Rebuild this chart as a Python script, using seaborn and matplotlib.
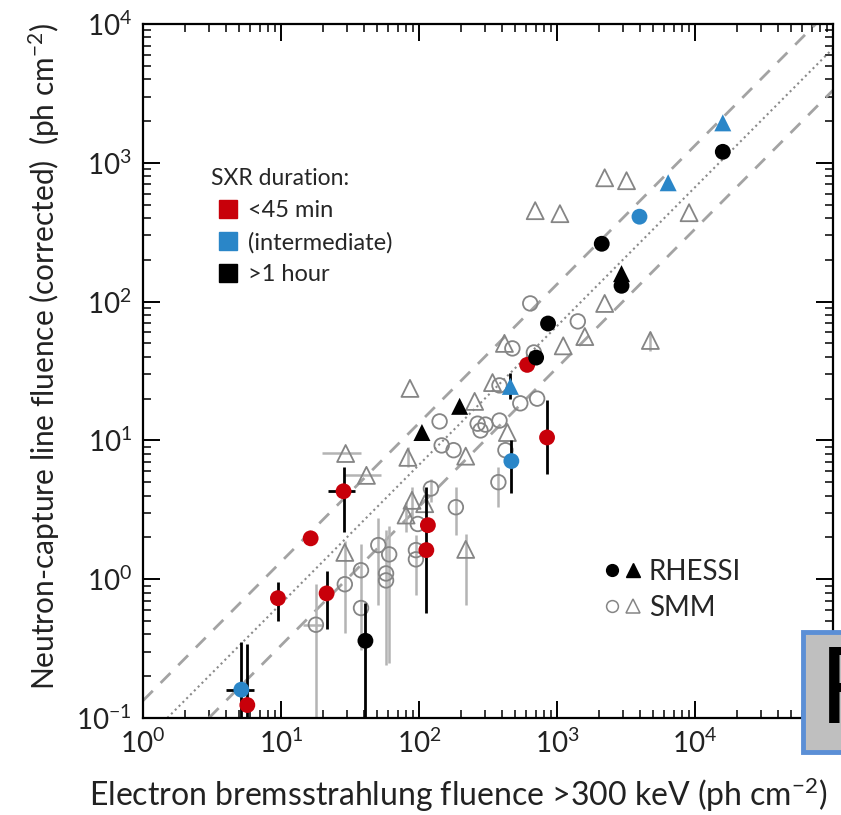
import numpy as np
import pandas as pd
import matplotlib
matplotlib.use("Agg")
import matplotlib.pyplot as plt
import seaborn as sns
from matplotlib.lines import Line2D
from matplotlib.legend_handler import HandlerTuple
from matplotlib.patches import Rectangle

NAN = np.nan

# ---------------- SMM open circles ----------------
smm_c_x   = [17.9, 29, 38, 38, 50.7, 60.8, 57.7, 57.7, 95, 95, 98, 122, 185, 141, 146, 178, 266, 279, 303, 383, 376, 423, 542, 718, 383, 475, 680, 640, 1415]
smm_c_y   = [0.47, 0.92, 1.16, 0.62, 1.76, 1.51, 1.10, 0.98, 1.62, 1.39, 2.5, 4.5, 3.3, 13.7, 9.2, 8.5, 13.2, 11.8, 13.0, 13.9, 5.0, 8.5, 18.5, 20, 24.9, 46, 43, 97, 72]
smm_c_ylo = [0.05, NAN, 0.31, NAN, 0.65, 0.25, 0.24, NAN, 0.77, NAN, NAN, 3.6, 2.07, NAN, NAN, NAN, NAN, NAN, NAN, NAN, 3.3, NAN, NAN, NAN, NAN, NAN, NAN, NAN, NAN]
smm_c_yhi = [0.93, NAN, 1.8, NAN, 2.75, 2.4, 2.25, NAN, 2.07, NAN, NAN, 5.3, 4.6, NAN, NAN, NAN, NAN, NAN, NAN, NAN, 6.4, NAN, NAN, NAN, NAN, NAN, NAN, NAN, NAN]
smm_c_xlo = [14.4] + [NAN] * 28
smm_c_xhi = [19.7] + [NAN] * 28

# ---------------- SMM open triangles ----------------
smm_t_x   = [29.4, 41.6, 29, 86, 253, 218, 83, 89, 80.6, 110, 218, 437, 341, 416, 1110, 1590, 4750, 2215, 695, 1050, 2215, 3190, 9060]
smm_t_y   = [8.05, 5.6, 1.56, 23.7, 19.1, 7.7, 7.55, 3.7, 2.9, 3.5, 1.64, 11.4, 26.1, 50, 48, 56, 52.5, 97, 452, 430, 780, 743, 437]
smm_t_ylo = [NAN, NAN, 0.41, NAN, NAN, NAN, 6.4, 2.8, 2.2, NAN, 0.65, NAN, NAN, NAN, NAN, NAN, 44, NAN, NAN, NAN, NAN, NAN, NAN]
smm_t_yhi = [NAN, NAN, 1.9, NAN, NAN, NAN, 9.0, 4.6, 3.6, NAN, 2.1, NAN, NAN, NAN, NAN, NAN, 60, NAN, NAN, NAN, NAN, NAN, NAN]
smm_t_xlo = [19.7, 29] + [NAN] * 21
smm_t_xhi = [38, 53] + [NAN] * 21

# ---------------- RHESSI filled circles ----------------
rh_c_x   = [5.7, 9.5, 16.4, 28.4, 21.4, 116, 113, 608, 847, 5.16, 467, 3960, 40.9, 706, 861, 2110, 2935, 15900]
rh_c_y   = [0.124, 0.73, 1.97, 4.3, 0.79, 2.45, 1.62, 35, 10.5, 0.16, 7.1, 409, 0.36, 39.5, 69.5, 261, 130, 1200]
rh_c_dur = ["<45 min"] * 9 + ["(intermediate)"] * 3 + [">1 hour"] * 6
rh_c_ylo = [0.05, 0.5, NAN, 2.2, 0.44, NAN, 0.57, NAN, 5.7, 0.05, 4.2, NAN, 0.05, NAN, NAN, NAN, NAN, NAN]
rh_c_yhi = [0.34, 0.95, NAN, 6.4, 1.14, NAN, 4.6, NAN, 19.4, 0.35, 10, NAN, 0.67, NAN, NAN, NAN, NAN, NAN]
rh_c_xlo = [NAN, NAN, NAN, 22, NAN, NAN, 103, NAN, NAN, 4.0, NAN, NAN, NAN, NAN, NAN, NAN, NAN, NAN]
rh_c_xhi = [NAN, NAN, NAN, 34.6, NAN, NAN, 124, NAN, NAN, 6.4, NAN, NAN, NAN, NAN, NAN, NAN, NAN, NAN]

# ---------------- RHESSI filled triangles ----------------
rh_t_x   = [459, 6390, 15900, 105, 197, 2935]
rh_t_y   = [24.5, 718, 1940, 11.4, 17.6, 159]
rh_t_dur = ["(intermediate)"] * 3 + [">1 hour"] * 3
rh_t_ylo = [20, NAN, NAN, NAN, NAN, NAN]
rh_t_yhi = [30.8, NAN, NAN, NAN, NAN, NAN]

# reference lines  y = k * x
ratio_mid = 1 / 15.0
ratio_band = 2.0

# ticks
x_ticks = [1, 10, 100, 1e3, 1e4, 1e5]
x_tick_labels = [r"$10^{0}$", r"$10^{1}$", r"$10^{2}$", r"$10^{3}$", r"$10^{4}$", ""]
y_ticks = [0.1, 1, 10, 100, 1e3, 1e4]
y_tick_labels = [r"$10^{-1}$", r"$10^{0}$", r"$10^{1}$", r"$10^{2}$", r"$10^{3}$", r"$10^{4}$"]

dur_labels = ["<45 min", "(intermediate)", ">1 hour"]
dur_colors = {"<45 min": "#c8000a", "(intermediate)": "#2a86c8", ">1 hour": "#000000"}

# ------------------------------------------------------------
sns.set_theme(style="ticks")
plt.rcParams['font.family'] = ['Lato', 'DejaVu Sans']
plt.rcParams['mathtext.fontset'] = 'custom'
plt.rcParams['mathtext.rm'] = 'Lato'
plt.rcParams['mathtext.it'] = 'Lato:italic'
plt.rcParams['mathtext.bf'] = 'Lato:bold'
plt.rcParams['axes.unicode_minus'] = False

fig = plt.figure(figsize=(8.41, 8.15), dpi=100)
ax = fig.add_axes([143 / 841, 97 / 815, 690 / 841, 694 / 815])
ax.set_xscale("log")
ax.set_yscale("log")
ax.set_xlim(1, 1e5)
ax.set_ylim(0.1, 1e4)

# reference lines
ax.axline((1, ratio_mid), (10, 10 * ratio_mid), color="#8a8a8a", lw=1.5, ls=(0, (1, 1.6)), zorder=1)
for k in (ratio_mid * ratio_band, ratio_mid / ratio_band):
    ax.axline((1, k), (10, 10 * k), color="#a3a3a3", lw=2.0, ls=(0, (5, 4)), zorder=1)


def draw_err(x, y, ylo, yhi, xlo, xhi, color, lw, z):
    x = np.asarray(x, float); y = np.asarray(y, float)
    ylo = np.asarray(ylo, float); yhi = np.asarray(yhi, float)
    m = ~np.isnan(ylo)
    if m.any():
        ax.errorbar(x[m], y[m], yerr=[y[m] - ylo[m], yhi[m] - y[m]], fmt="none",
                    ecolor=color, elinewidth=lw, capsize=0, zorder=z)
    if xlo is not None:
        xlo = np.asarray(xlo, float); xhi = np.asarray(xhi, float)
        m = ~np.isnan(xlo)
        if m.any():
            ax.errorbar(x[m], y[m], xerr=[x[m] - xlo[m], xhi[m] - x[m]], fmt="none",
                        ecolor=color, elinewidth=lw, capsize=0, zorder=z)


draw_err(smm_c_x, smm_c_y, smm_c_ylo, smm_c_yhi, smm_c_xlo, smm_c_xhi, "#b4b4b4", 1.8, 2)
draw_err(smm_t_x, smm_t_y, smm_t_ylo, smm_t_yhi, smm_t_xlo, smm_t_xhi, "#b4b4b4", 1.8, 2)
draw_err(rh_c_x, rh_c_y, rh_c_ylo, rh_c_yhi, rh_c_xlo, rh_c_xhi, "#000000", 2.0, 4)
draw_err(rh_t_x, rh_t_y, rh_t_ylo, rh_t_yhi, None, None, "#000000", 2.0, 4)

# SMM open markers
smm_c = pd.DataFrame({"x": smm_c_x, "y": smm_c_y})
smm_t = pd.DataFrame({"x": smm_t_x, "y": smm_t_y})
sns.scatterplot(data=smm_c, x="x", y="y", marker="o", s=110, color="none",
                edgecolor="#858585", linewidth=1.3, ax=ax, zorder=3, legend=False)
ax.collections[-1].set_facecolor("none")
sns.scatterplot(data=smm_t, x="x", y="y", marker="^", s=150, color="none",
                edgecolor="#858585", linewidth=1.3, ax=ax, zorder=3, legend=False)
ax.collections[-1].set_facecolor("none")

# RHESSI filled markers
rh_c = pd.DataFrame({"x": rh_c_x, "y": rh_c_y, "dur": rh_c_dur})
rh_t = pd.DataFrame({"x": rh_t_x, "y": rh_t_y, "dur": rh_t_dur})
sns.scatterplot(data=rh_c, x="x", y="y", hue="dur", palette=dur_colors, marker="o",
                s=130, edgecolor="none", ax=ax, zorder=5, legend=False)
sns.scatterplot(data=rh_t, x="x", y="y", hue="dur", palette=dur_colors, marker="^",
                s=150, edgecolor="none", ax=ax, zorder=5, legend=False)

# axes styling
for sp in ax.spines.values():
    sp.set_linewidth(1.6)
    sp.set_color("black")
ax.tick_params(which="both", direction="in", top=True, right=True, colors="black",
               labelcolor="#222222")
ax.tick_params(which="major", length=12, width=1.4, labelsize=20, pad=8)
ax.tick_params(which="minor", length=6, width=1.1)
ax.set_xticks(x_ticks, x_tick_labels)
ax.set_yticks(y_ticks, y_tick_labels)
ax.xaxis.set_minor_locator(matplotlib.ticker.LogLocator(base=10, subs=np.arange(2, 10), numticks=20))
ax.yaxis.set_minor_locator(matplotlib.ticker.LogLocator(base=10, subs=np.arange(2, 10), numticks=20))
ax.xaxis.set_minor_formatter(matplotlib.ticker.NullFormatter())
ax.yaxis.set_minor_formatter(matplotlib.ticker.NullFormatter())
ax.set_xlim(1, 1e5)
ax.set_ylim(0.1, 1e4)
ax.grid(False)

ax.set_xlabel(r"Electron bremsstrahlung fluence >300 keV (ph cm$^{-2}$)", fontsize=23, color="#222222")
ax.set_ylabel(r"Neutron-capture line fluence (corrected)  (ph cm$^{-2}$)", fontsize=21.5, color="#222222")
ax.xaxis.set_label_coords((458 - 143) / 690, -(775 - 718) / 694)
ax.yaxis.set_label_coords(-(143 - 62) / 690, (718 - 356) / 694)

# legend 1: SXR duration
h1 = [Line2D([], [], ls="", marker="s", ms=12.5, color=dur_colors[d]) for d in dur_labels]
leg1 = ax.legend(h1, dur_labels, title="SXR duration:", loc="upper left",
                 bbox_to_anchor=((211 - 143) / 690, (718 - 168) / 694),
                 frameon=False, fontsize=17, title_fontsize=16.5, alignment="left",
                 handlelength=1.45, handletextpad=0.1, labelspacing=0.45, borderpad=0.0,
                 borderaxespad=0.0)
leg1._legend_box.sep = 8
ax.add_artist(leg1)

# legend 2: instruments
h2 = [(Line2D([], [], ls="", marker="o", ms=8.5, color="black"),
       Line2D([], [], ls="", marker="^", ms=9.5, color="black")),
      (Line2D([], [], ls="", marker="o", ms=8.5, mfc="none", mec="#858585", mew=1.1),
       Line2D([], [], ls="", marker="^", ms=9.5, mfc="none", mec="#858585", mew=1.1))]
ax.legend(h2, ["RHESSI", "SMM"], loc="upper left",
          bbox_to_anchor=((603 - 143) / 690, (718 - 559) / 694),
          frameon=False, fontsize=20, handler_map={tuple: HandlerTuple(ndivide=None, pad=0.1)},
          handlelength=1.4, handletextpad=0.25, labelspacing=0.35, borderpad=0.0,
          borderaxespad=0.0)

# overlapping slide box with "F"
fig.patches.append(Rectangle((803 / 841, (815 - 752) / 815), 60 / 841, 120 / 815,
                             transform=fig.transFigure, facecolor="#bfbfbf",
                             edgecolor="#5b8fd6", linewidth=3.5, zorder=10))
fig.text(820 / 841, (815 - 694) / 815, "F", fontsize=80, va="center", ha="left",
         color="black", zorder=11, family=["Liberation Sans", "DejaVu Sans"])

fig.savefig("out.png", dpi=100)
